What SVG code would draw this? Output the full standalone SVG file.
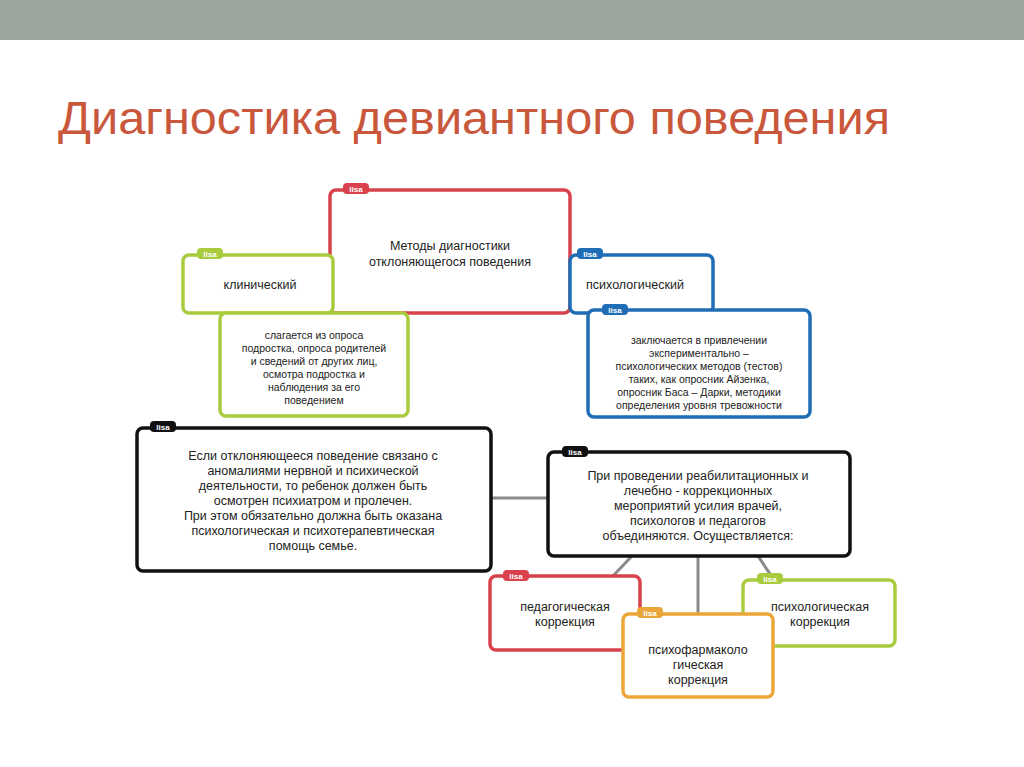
<svg xmlns="http://www.w3.org/2000/svg" width="1024" height="767" viewBox="0 0 1024 767">
<style>
text{font-family:"Liberation Sans",Arial,sans-serif;fill:#222;text-anchor:middle}
.t{font-size:12.5px}
.s{font-size:10.5px}
.box{fill:#fff;stroke-width:3.5}
.tag{font-size:8px;fill:#fff;font-weight:bold}
.con{stroke:#8a8a8a;stroke-width:3;fill:none}
</style>
<rect x="0" y="0" width="1024" height="767" fill="#fff"/>
<rect x="0" y="0" width="1024" height="40" fill="#9ba79e"/>
<text x="58" y="134" textLength="832" lengthAdjust="spacingAndGlyphs" style="font-size:47px;fill:#c9573c;text-anchor:start">Диагностика девиантного поведения</text>
<g id="connectors">
<line class="con" x1="491" y1="498" x2="548" y2="498"/>
<line class="con" x1="632" y1="556" x2="612" y2="577"/>
<line class="con" x1="698" y1="556" x2="698" y2="614"/>
<line class="con" x1="758" y1="556" x2="774" y2="580"/>
</g>
<g id="methods">
<rect class="box" x="330" y="190" width="240" height="123" rx="6" stroke="#d9424c"/>
<rect x="343" y="183" width="26" height="11" rx="4" fill="#d9424c"/><text class="tag" x="356" y="191.5">lisa</text>
<text class="t" x="450" y="250">Методы диагностики</text>
<text class="t" x="450" y="266">отклоняющегося поведения</text>
</g>
<g id="clinical">
<rect class="box" x="183" y="255" width="150" height="58" rx="6" stroke="#a9cc3e"/>
<rect x="197" y="248" width="26" height="11" rx="4" fill="#a9cc3e"/><text class="tag" x="210" y="256.5">lisa</text>
<text class="t" x="260" y="289">клинический</text>
</g>
<g id="clinical-desc">
<rect class="box" x="220" y="313" width="188" height="103" rx="6" stroke="#a9cc3e"/>
<text class="s" x="314" y="339">слагается из опроса</text>
<text class="s" x="314" y="352">подростка, опроса родителей</text>
<text class="s" x="314" y="365">и сведений от других лиц,</text>
<text class="s" x="314" y="378">осмотра подростка и</text>
<text class="s" x="314" y="391">наблюдения за его</text>
<text class="s" x="314" y="404">поведением</text>
</g>
<g id="psych">
<rect class="box" x="570" y="255" width="143" height="58" rx="6" stroke="#1e6db5"/>
<rect x="577" y="248" width="26" height="11" rx="4" fill="#1e6db5"/><text class="tag" x="590" y="256.5">lisa</text>
<text class="t" x="635" y="289">психологический</text>
</g>
<g id="psych-desc">
<rect class="box" x="588" y="310" width="222" height="107" rx="6" stroke="#1e6db5"/>
<rect x="602" y="304" width="26" height="11" rx="4" fill="#1e6db5"/><text class="tag" x="615" y="312.5">lisa</text>
<text class="s" x="699" y="344">заключается в привлечении</text>
<text class="s" x="699" y="357">экспериментально –</text>
<text class="s" x="699" y="370">психологических методов (тестов)</text>
<text class="s" x="699" y="383">таких, как опросник Айзенка,</text>
<text class="s" x="699" y="396">опросник Баса – Дарки, методики</text>
<text class="s" x="699" y="409">определения уровня тревожности</text>
</g>
<g id="psychiatry">
<rect class="box" x="137" y="428" width="354" height="143" rx="6" stroke="#111"/>
<rect x="150" y="421" width="26" height="11" rx="4" fill="#111"/><text class="tag" x="163" y="429.5">lisa</text>
<text class="t" x="313" y="460">Если отклоняющееся поведение связано с</text>
<text class="t" x="313" y="475">аномалиями нервной и психической</text>
<text class="t" x="313" y="490">деятельности, то ребенок должен быть</text>
<text class="t" x="313" y="505">осмотрен психиатром и пролечен.</text>
<text class="t" x="313" y="520">При этом обязательно должна быть оказана</text>
<text class="t" x="313" y="535">психологическая и психотерапевтическая</text>
<text class="t" x="313" y="550">помощь семье.</text>
</g>
<g id="rehab">
<rect class="box" x="548" y="452" width="302" height="104" rx="6" stroke="#111"/>
<rect x="562" y="446" width="26" height="11" rx="4" fill="#111"/><text class="tag" x="575" y="454.5">lisa</text>
<text class="t" x="698" y="480">При проведении реабилитационных и</text>
<text class="t" x="698" y="495">лечебно - коррекционных</text>
<text class="t" x="698" y="510">мероприятий усилия врачей,</text>
<text class="t" x="698" y="525">психологов и педагогов</text>
<text class="t" x="698" y="540">объединяются. Осуществляется:</text>
</g>
<g id="ped">
<rect class="box" x="490" y="576" width="150" height="74" rx="6" stroke="#d9424c"/>
<rect x="503" y="570" width="26" height="11" rx="4" fill="#d9424c"/><text class="tag" x="516" y="578.5">lisa</text>
<text class="t" x="565" y="611">педагогическая</text>
<text class="t" x="565" y="626">коррекция</text>
</g>
<g id="psycorr">
<rect class="box" x="743" y="580" width="152" height="66" rx="6" stroke="#a9cc3e"/>
<rect x="757" y="573" width="26" height="11" rx="4" fill="#a9cc3e"/><text class="tag" x="770" y="581.5">lisa</text>
<text class="t" x="820" y="611">психологическая</text>
<text class="t" x="820" y="626">коррекция</text>
</g>
<g id="pharm">
<rect class="box" x="623" y="614" width="150" height="83" rx="6" stroke="#eba63a"/>
<rect x="637" y="607" width="26" height="11" rx="4" fill="#eba63a"/><text class="tag" x="650" y="615.5">lisa</text>
<text class="t" x="698" y="654">психофармаколо</text>
<text class="t" x="698" y="669">гическая</text>
<text class="t" x="698" y="684">коррекция</text>
</g>
</svg>
